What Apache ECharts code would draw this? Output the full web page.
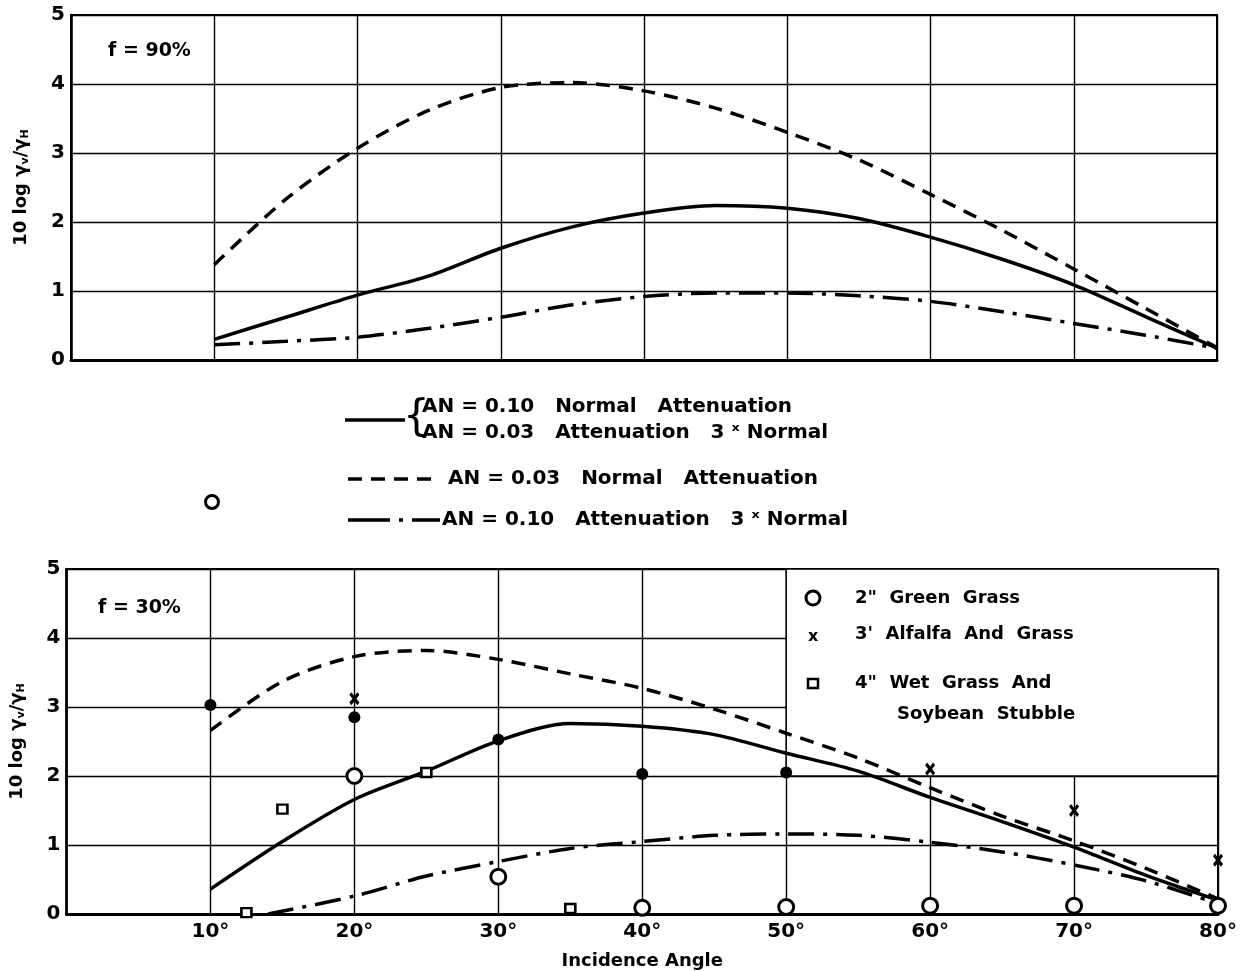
<!DOCTYPE html>
<html>
<head>
<meta charset="utf-8">
<script src="https://cdn.jsdelivr.net/npm/echarts@6/dist/echarts.min.js"></script>
<style>
  html, body { margin: 0; padding: 0; background: #fff; }
  #chart { width: 1253px; height: 971px; }
</style>
</head>
<body>
<div id="chart"></div>
<script>
// incidence angles (degrees) used by the curves
const angles = [10, 15, 20, 25, 30, 35, 40, 45, 50, 55, 60, 65, 70, 75, 80];

// f = 90 %
const solid90 = [0.3, 0.62, 0.94, 1.22, 1.62, 1.93, 2.13, 2.24, 2.2, 2.05, 1.78, 1.46, 1.09, 0.63, 0.17];
const dashed90 = [1.38, 2.33, 3.07, 3.62, 3.95, 4.02, 3.9, 3.65, 3.3, 2.9, 2.4, 1.88, 1.32, 0.75, 0.18];
const dashDot90 = [0.22, 0.27, 0.33, 0.46, 0.62, 0.8, 0.92, 0.97, 0.97, 0.93, 0.85, 0.7, 0.53, 0.36, 0.17];

// f = 30 %
const solid30 = [0.36, 1.05, 1.66, 2.07, 2.51, 2.76, 2.72, 2.6, 2.33, 2.07, 1.69, 1.34, 0.97, 0.56, 0.2];
const dashed30 = [2.66, 3.37, 3.73, 3.82, 3.69, 3.48, 3.27, 2.97, 2.62, 2.26, 1.83, 1.42, 1.06, 0.66, 0.22];
const dashDotAngles30 = [14, 20, 25, 30, 35, 40, 45, 50, 55, 60, 65, 70, 75, 80];
const dashDot30 = [0.0, 0.26, 0.55, 0.76, 0.95, 1.05, 1.14, 1.16, 1.14, 1.04, 0.9, 0.71, 0.48, 0.15];

// measured points, f = 30 %
const grassAngles = [20, 30, 40, 50, 60, 70, 80];
const grassValues = [2.0, 0.54, 0.09, 0.1, 0.12, 0.12, 0.12];
const alfalfaAngles = [20, 60, 70, 80];
const alfalfaValues = [3.12, 2.1, 1.5, 0.78];
const alfalfaDotAngles = [10, 20, 30, 40, 50];
const alfalfaDotValues = [3.03, 2.85, 2.53, 2.03, 2.05];
const wetAngles = [12.5, 15, 25, 35];
const wetValues = [0.02, 1.52, 2.05, 0.08];

const zip = (xs, ys) => xs.map((x, i) => [x, ys[i]]);

const FONT = 'DejaVu Sans';
const INK = '#000';
const DASHED = [14, 9];
const DASH_DOT = [26, 9, 4, 9];
const X_MARK = 'path://M0,2 L2,0 L5,3 L8,0 L10,2 L7,5 L10,8 L8,10 L5,7 L2,10 L0,8 L3,5 Z';

function xAxisOf(grid, showLabels) {
  return {
    gridIndex: grid, type: 'value', min: 0, max: 80, interval: 10,
    axisLine: { lineStyle: { color: INK, width: 3 } },
    axisTick: { show: false },
    axisLabel: {
      show: showLabels, color: INK, fontFamily: FONT, fontWeight: 'bold', fontSize: 20, margin: 8,
      formatter: v => (v === 0 ? '' : v + '°')
    },
    splitLine: { lineStyle: { color: INK, width: 1.4 } },
    name: showLabels ? 'Incidence Angle' : '',
    nameLocation: 'middle', nameGap: 38,
    nameTextStyle: { color: INK, fontFamily: FONT, fontWeight: 'bold', fontSize: 18 }
  };
}

function yAxisOf(grid) {
  return {
    gridIndex: grid, type: 'value', min: 0, max: 5, interval: 1,
    axisLine: { lineStyle: { color: INK, width: 2.5 } },
    axisTick: { show: false },
    axisLabel: { color: INK, fontFamily: FONT, fontWeight: 'bold', fontSize: 20, margin: 6 },
    splitLine: { lineStyle: { color: INK, width: 1.4 } },
    name: '10 log γ{s|v}/γ{s|H}',
    nameLocation: 'middle', nameRotate: 90, nameGap: 40,
    nameTextStyle: {
      color: INK, fontFamily: FONT, fontWeight: 'bold', fontSize: 18,
      rich: { s: { fontSize: 11, fontWeight: 'bold', fontFamily: FONT, verticalAlign: 'bottom', padding: [8, 0, 0, 0] } }
    }
  };
}

function curve(name, grid, data, type) {
  return {
    name, type: 'line', xAxisIndex: grid, yAxisIndex: grid, z: 3,
    data, smooth: 0.3, symbol: 'none',
    lineStyle: { color: INK, width: 3.5, type }
  };
}

function points(name, data, symbol, size, itemStyle) {
  return {
    name, type: 'scatter', xAxisIndex: 1, yAxisIndex: 1, z: 5,
    data, symbol, symbolSize: size,
    itemStyle: Object.assign({ opacity: 1 }, itemStyle)
  };
}

const chart = echarts.init(document.getElementById('chart'));

const txt = (x, y, text, size, extra) => Object.assign({
  type: 'text', x, y,
  style: { text, fill: INK, font: 'bold ' + size + 'px ' + FONT, textVerticalAlign: 'middle' }
}, extra || {});
const seg = (x1, x2, y, dash) => ({
  type: 'line', shape: { x1, y1: y, x2, y2: y },
  style: { stroke: INK, lineWidth: 3.5, lineDash: dash || null }
});

chart.setOption({
  animation: false,
  backgroundColor: '#fff',
  grid: [
    { left: 71, top: 15, width: 1146, height: 345, show: true, borderColor: INK, borderWidth: 2 },
    { left: 66, top: 569, width: 1152, height: 349, show: true, borderColor: INK, borderWidth: 2 }
  ],
  xAxis: [xAxisOf(0, false), xAxisOf(1, true)],
  yAxis: [yAxisOf(0), yAxisOf(1)],
  series: [
    curve('solid90', 0, zip(angles, solid90), 'solid'),
    curve('dashed90', 0, zip(angles, dashed90), DASHED),
    curve('dashDot90', 0, zip(angles, dashDot90), DASH_DOT),
    {
      name: 'legendBox', type: 'line', xAxisIndex: 1, yAxisIndex: 1, data: [], z: 1,
      markArea: {
        silent: true,
        itemStyle: { color: '#fff', opacity: 1, borderColor: INK, borderWidth: 1.5 },
        data: [[{ coord: [50, 2] }, { coord: [80, 5] }]]
      }
    },
    curve('solid30', 1, zip(angles, solid30), 'solid'),
    curve('dashed30', 1, zip(angles, dashed30), DASHED),
    curve('dashDot30', 1, zip(dashDotAngles30, dashDot30), DASH_DOT),
    points('2" Green Grass', zip(grassAngles, grassValues), 'circle', 15,
      { color: '#fff', borderColor: INK, borderWidth: 3 }),
    points("3' Alfalfa And Grass", zip(alfalfaAngles, alfalfaValues), X_MARK, [10, 13], { color: INK }),
    points('alfalfaDots', zip(alfalfaDotAngles, alfalfaDotValues), 'circle', 12, { color: INK }),
    points('4" Wet Grass And Soybean Stubble', zip(wetAngles, wetValues), 'rect', [10, 9],
      { color: '#fff', borderColor: INK, borderWidth: 2.5 })
  ],
  graphic: [
    txt(108, 51, 'f = 90%', 19),
    txt(98, 608, 'f = 30%', 19),
    // middle legend
    seg(345, 405, 420),
    txt(403, 419, '{', 40, { style: { text: '{', fill: INK, font: '42px ' + FONT, textVerticalAlign: 'middle' } }),
    txt(422, 407, 'AN = 0.10   Normal   Attenuation', 20),
    txt(422, 433, 'AN = 0.03   Attenuation   3 ˣ Normal', 20),
    seg(348, 438, 479, DASHED),
    txt(448, 479, 'AN = 0.03   Normal   Attenuation', 20),
    seg(348, 440, 520, [42, 9, 4, 9]),
    txt(442, 520, 'AN = 0.10   Attenuation   3 ˣ Normal', 20),
    { type: 'circle', shape: { cx: 212, cy: 502, r: 6.5 }, style: { fill: '#fff', stroke: INK, lineWidth: 3 } },
    // legend inside the lower chart
    { type: 'circle', z: 10, shape: { cx: 813, cy: 598, r: 7 }, style: { fill: '#fff', stroke: INK, lineWidth: 3 } },
    txt(808, 637, 'x', 16, { z: 10 }),
    { type: 'rect', z: 10, shape: { x: 808, y: 679, width: 10, height: 9 }, style: { fill: '#fff', stroke: INK, lineWidth: 2.5 } },
    txt(855, 598, '2"  Green  Grass', 18, { z: 10 }),
    txt(855, 634, "3'  Alfalfa  And  Grass", 18, { z: 10 }),
    txt(855, 683, '4"  Wet  Grass  And', 18, { z: 10 }),
    txt(897, 714, 'Soybean  Stubble', 18, { z: 10 })
  ]
});
</script>
</body>
</html>
